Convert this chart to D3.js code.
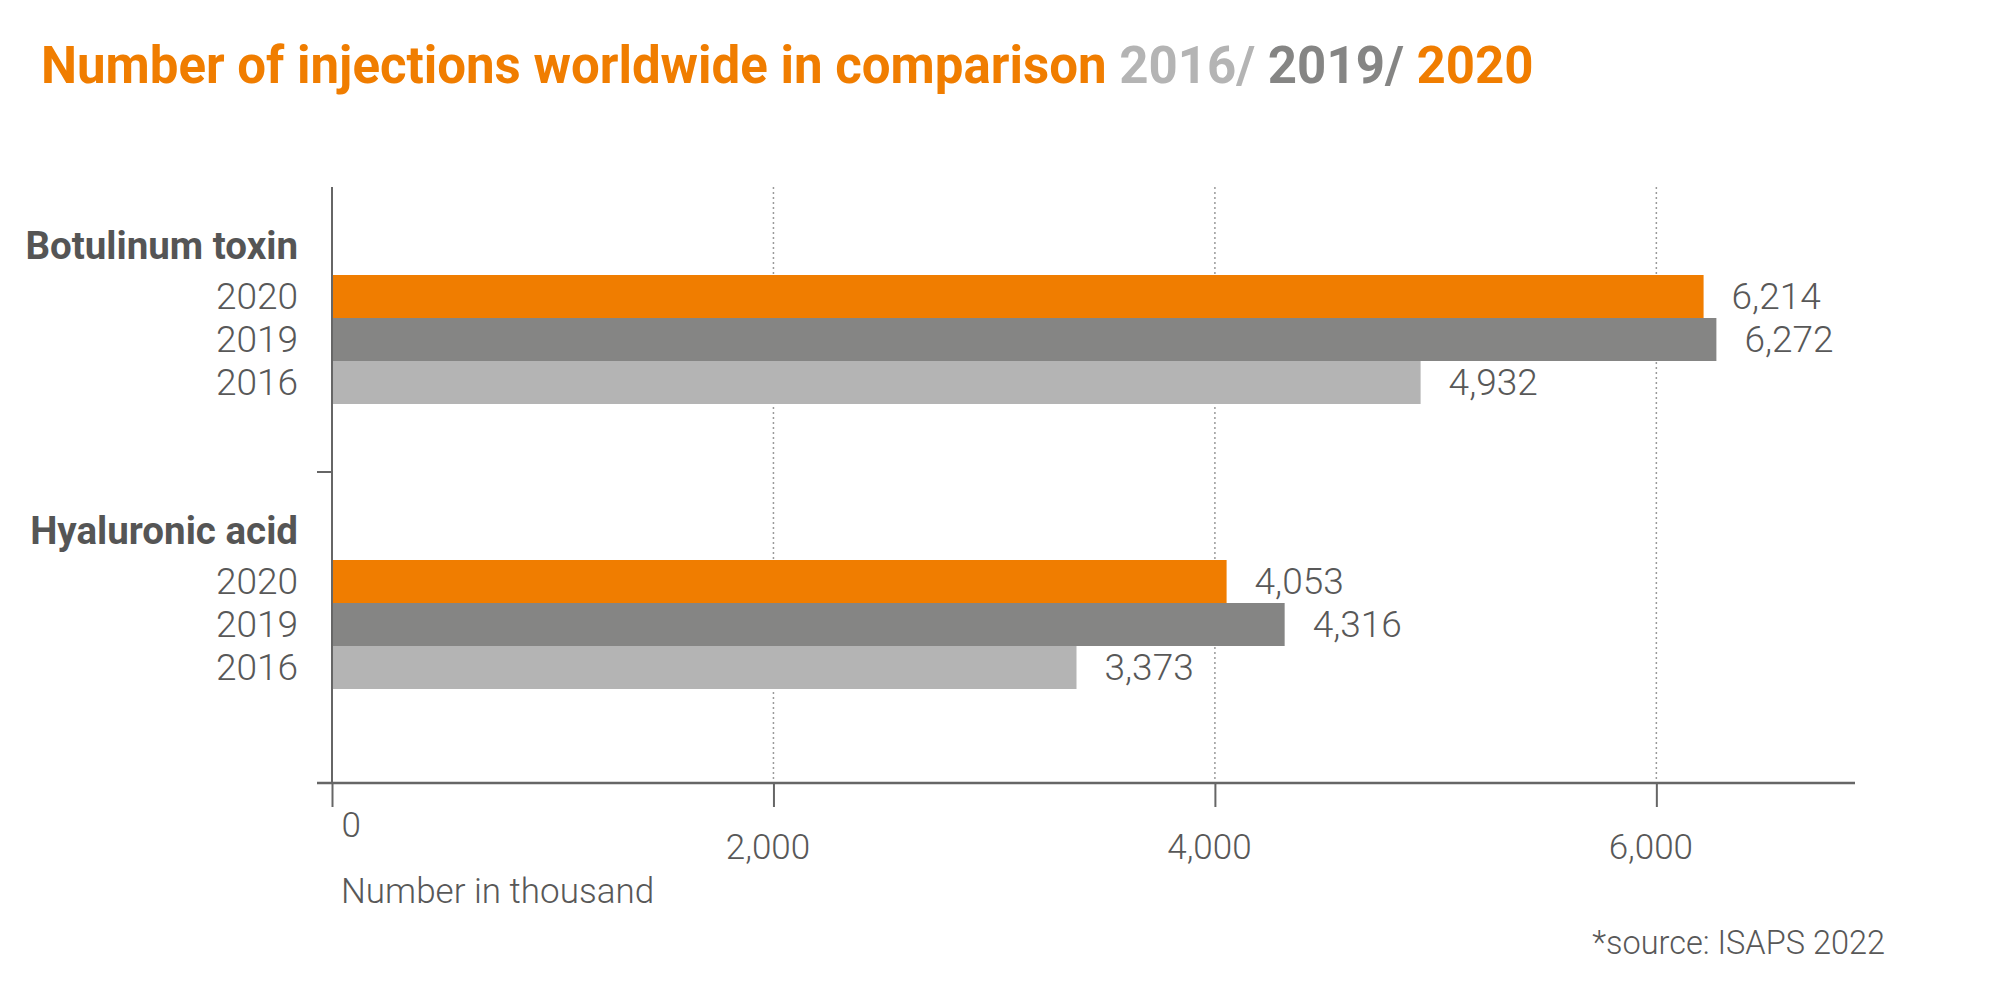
<!DOCTYPE html>
<html>
<head>
<meta charset="utf-8">
<title>Number of injections worldwide</title>
<script src="https://cdn.jsdelivr.net/npm/d3@7"></script>
<style>
    body { margin: 0; background: #fff; }
    svg { display: block; font-family: Roboto, "Noto Sans", sans-serif; }
</style>
</head>
<body>
<svg id="chart" width="2000" height="1000"></svg>
<script>
"use strict";

// chart data (values in thousand)
const categories = ["Botulinum toxin", "Hyaluronic acid"];
const years = ["2020", "2019", "2016"];
const values2020 = [6214, 4053];
const values2019 = [6272, 4316];
const values2016 = [4932, 3373];
const xTicks = [0, 2000, 4000, 6000];

// layout
const axisX = 332;
const axisRightX = 1855;
const plotTop = 187;
const plotBottom = 783;
const bandStep = 285;

const orange = "#f07d00";
const textGrey = "#585858";
const lineGrey = "#666666";

var xScale, groupScale, rowScale, colorScale;

window.addEventListener("load", init);

function buildRows() {
    let byYear = { "2020": values2020, "2019": values2019, "2016": values2016 };
    return categories.flatMap((cat, i) =>
        years.map(year => ({ category: cat, year: year, value: byYear[year][i] })));
}

function rowY(cat, key) {
    return groupScale(cat) + rowScale(key);
}

function drawTitle(svg) {
    let title = svg.append("text")
        .attr("x", 41)
        .attr("y", 83)
        .attr("font-size", 51)
        .attr("font-weight", 700);
    title.append("tspan").attr("fill", orange).text("Number of injections worldwide in comparison ");
    title.append("tspan").attr("fill", colorScale("2016")).text("2016/ ");
    title.append("tspan").attr("fill", colorScale("2019")).text("2019/ ");
    title.append("tspan").attr("fill", colorScale("2020")).text("2020");
}

function drawAxes(svg) {
    // dotted grid lines
    svg.append("g")
        .selectAll("line")
        .data(xTicks.filter(t => t > 0))
        .join("line")
            .attr("x1", t => xScale(t))
            .attr("x2", t => xScale(t))
            .attr("y1", plotTop)
            .attr("y2", plotBottom)
            .attr("stroke", "#9a9a9a")
            .attr("stroke-width", 1.5)
            .attr("stroke-dasharray", "2,3");

    // bottom axis
    let xAxis = svg.append("g")
        .attr("transform", `translate(0,${plotBottom})`)
        .call(d3.axisBottom(xScale)
            .tickValues(xTicks)
            .tickSize(24)
            .tickSizeOuter(0)
            .tickFormat(d3.format(",")));
    xAxis.select(".domain").remove();
    xAxis.selectAll(".tick line")
        .attr("stroke", lineGrey)
        .attr("stroke-width", 2);
    xAxis.selectAll(".tick text")
        .attr("font-family", "Roboto")
        .attr("font-size", 35)
        .attr("font-weight", 300)
        .attr("fill", textGrey)
        .attr("dy", 0)
        .attr("x", t => t === 0 ? 9 : -6)
        .attr("y", t => t === 0 ? 54 : 76)
        .attr("text-anchor", t => t === 0 ? "start" : "middle");

    svg.append("line")
        .attr("x1", axisX - 15)
        .attr("x2", axisRightX)
        .attr("y1", plotBottom)
        .attr("y2", plotBottom)
        .attr("stroke", lineGrey)
        .attr("stroke-width", 2.5);

    // left axis with a tick between the two groups
    svg.append("line")
        .attr("x1", axisX)
        .attr("x2", axisX)
        .attr("y1", plotTop)
        .attr("y2", plotBottom)
        .attr("stroke", lineGrey)
        .attr("stroke-width", 2);
    svg.append("g")
        .selectAll("line")
        .data(categories.slice(1))
        .join("line")
            .attr("x1", axisX - 15)
            .attr("x2", axisX)
            .attr("y1", cat => groupScale(cat))
            .attr("y2", cat => groupScale(cat))
            .attr("stroke", lineGrey)
            .attr("stroke-width", 2);

    svg.append("text")
        .attr("x", 341)
        .attr("y", 903)
        .attr("font-size", 35)
        .attr("font-weight", 300)
        .attr("fill", textGrey)
        .text("Number in thousand");
}

function drawLabels(svg, rows) {
    svg.append("g")
        .selectAll("text")
        .data(categories)
        .join("text")
            .attr("x", axisX - 34)
            .attr("y", cat => rowY(cat, "header") + rowScale.bandwidth() / 2)
            .attr("dy", "0.15em")
            .attr("text-anchor", "end")
            .attr("font-size", 38.5)
            .attr("font-weight", 700)
            .attr("fill", "#555555")
            .text(cat => cat);

    svg.append("g")
        .selectAll("text")
        .data(rows)
        .join("text")
            .attr("x", axisX - 34)
            .attr("y", d => rowY(d.category, d.year) + rowScale.bandwidth() / 2)
            .attr("dy", "0.33em")
            .attr("text-anchor", "end")
            .attr("font-size", 37)
            .attr("font-weight", 300)
            .attr("fill", textGrey)
            .text(d => d.year);
}

function drawBars(svg, rows) {
    svg.append("g")
        .selectAll("rect")
        .data(rows)
        .join("rect")
            .attr("x", xScale(0) + 1)
            .attr("y", d => rowY(d.category, d.year))
            .attr("width", d => xScale(d.value) - xScale(0) - 1)
            .attr("height", rowScale.bandwidth())
            .attr("fill", d => colorScale(d.year));

    svg.append("g")
        .selectAll("text")
        .data(rows)
        .join("text")
            .attr("x", d => xScale(d.value) + 28)
            .attr("y", d => rowY(d.category, d.year) + rowScale.bandwidth() / 2)
            .attr("dy", "0.35em")
            .attr("font-size", 37)
            .attr("font-weight", 300)
            .attr("fill", textGrey)
            .text(d => d3.format(",")(d.value));
}

function init() {
    xScale = d3.scaleLinear()
        .domain([0, 6900])
        .range([axisX, axisRightX]);
    groupScale = d3.scaleBand()
        .domain(categories)
        .range([plotTop, plotTop + bandStep * categories.length]);
    rowScale = d3.scaleBand()
        .domain(["header"].concat(years))
        .range([45, 217]);
    colorScale = d3.scaleOrdinal()
        .domain(years)
        .range([orange, "#858584", "#b4b4b4"]);

    const svg = d3.select("svg#chart");
    let rows = buildRows();

    drawTitle(svg);
    drawAxes(svg);
    drawBars(svg, rows);
    drawLabels(svg, rows);

    svg.append("text")
        .attr("x", 1885)
        .attr("y", 954)
        .attr("text-anchor", "end")
        .attr("font-size", 32.5)
        .attr("font-weight", 300)
        .attr("fill", textGrey)
        .text("*source: ISAPS 2022");
}
</script>
</body>
</html>
